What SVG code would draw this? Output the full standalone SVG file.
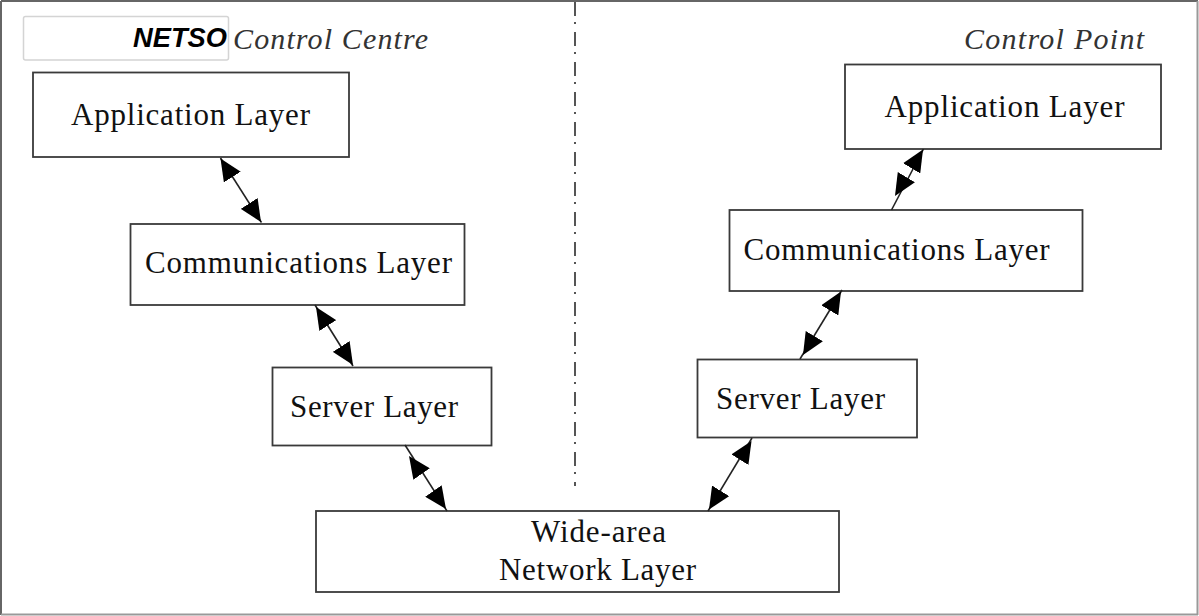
<svg xmlns="http://www.w3.org/2000/svg" width="1199" height="616" viewBox="0 0 1199 616">
<style>
.box{fill:#fff;stroke:#3a3a3a;stroke-width:1.8}
.lbl{font-family:"Liberation Serif","Times New Roman",serif;font-size:31px;fill:#111}
.ital{font-family:"Liberation Serif","Times New Roman",serif;font-size:30px;font-style:italic;fill:#333}
.conn{stroke:#222;stroke-width:1.6;fill:none}
.head{stroke:none;fill:none}
</style>
<defs>
<marker id="ah" viewBox="0 0 22 20" refX="22" refY="10" markerWidth="22" markerHeight="20" markerUnits="userSpaceOnUse" orient="auto-start-reverse">
<path d="M0,0 L22,10 L0,20 Z" fill="#000"/>
</marker>
</defs>
<rect x="0" y="0" width="1199" height="616" fill="#fff"/>
<g id="frame">
<line x1="1" y1="1" x2="1198" y2="1" stroke="#666" stroke-width="2"/>
<line x1="1" y1="1" x2="1" y2="615" stroke="#666" stroke-width="2"/>
<line x1="1197.5" y1="1" x2="1197.5" y2="615" stroke="#999" stroke-width="2"/>
<line x1="1" y1="614.5" x2="1198" y2="614.5" stroke="#999" stroke-width="2"/>
</g>
<g id="divider">
<line x1="575" y1="2" x2="575" y2="486" stroke="#555" stroke-width="2" stroke-dasharray="14 6 2 8"/>
</g>
<g id="title-left">
<rect x="23.5" y="16.5" width="205" height="43.5" rx="2" fill="#fff" stroke="#d4d4d4" stroke-width="1.5"/>
<text x="133" y="47" font-family="Liberation Sans, Arial, sans-serif" font-size="27" font-weight="bold" font-style="italic" fill="#000" textLength="94" lengthAdjust="spacingAndGlyphs">NETSO</text>
<text class="ital" x="233" y="49" textLength="195" lengthAdjust="spacing">Control Centre</text>
</g>
<g id="title-right">
<text class="ital" x="964" y="49" textLength="180" lengthAdjust="spacing">Control Point</text>
</g>
<g id="left-app">
<rect class="box" x="33" y="72.5" width="316" height="84.5"/>
<text class="lbl" x="71" y="125" textLength="239" lengthAdjust="spacing">Application Layer</text>
</g>
<g id="left-comm">
<rect class="box" x="130.5" y="224" width="334" height="81"/>
<text class="lbl" x="145" y="273" textLength="307" lengthAdjust="spacing">Communications Layer</text>
</g>
<g id="left-server">
<rect class="box" x="272.5" y="367.5" width="219" height="78"/>
<text class="lbl" x="290" y="416.5" textLength="168" lengthAdjust="spacing">Server Layer</text>
</g>
<g id="wan">
<rect class="box" x="316" y="511" width="523" height="81"/>
<text class="lbl" x="531" y="542" textLength="135" lengthAdjust="spacing">Wide-area</text>
<text class="lbl" x="499" y="580" textLength="197" lengthAdjust="spacing">Network Layer</text>
</g>
<g id="right-app">
<rect class="box" x="845" y="64.5" width="316" height="84.5"/>
<text class="lbl" x="884.5" y="117" textLength="240" lengthAdjust="spacing">Application Layer</text>
</g>
<g id="right-comm">
<rect class="box" x="729.5" y="210" width="353" height="81"/>
<text class="lbl" x="743.5" y="259.5" textLength="306" lengthAdjust="spacing">Communications Layer</text>
</g>
<g id="right-server">
<rect class="box" x="697.5" y="359.5" width="219.5" height="78"/>
<text class="lbl" x="716" y="408.5" textLength="169" lengthAdjust="spacing">Server Layer</text>
</g>
<g id="connectors">
<line class="conn" x1="220.5" y1="158" x2="261.5" y2="222.5"/>
<line class="head" x1="220.5" y1="158.5" x2="261" y2="222" marker-start="url(#ah)" marker-end="url(#ah)"/>
<line class="conn" x1="315" y1="305" x2="353" y2="366"/>
<line class="head" x1="316" y1="307" x2="353" y2="365" marker-start="url(#ah)" marker-end="url(#ah)"/>
<line class="conn" x1="405" y1="445" x2="447" y2="511"/>
<line class="head" x1="409" y1="456" x2="446" y2="509" marker-start="url(#ah)" marker-end="url(#ah)"/>
<line class="conn" x1="752" y1="438" x2="708" y2="511"/>
<line class="head" x1="751.5" y1="441" x2="709" y2="509.5" marker-start="url(#ah)" marker-end="url(#ah)"/>
<line class="conn" x1="842" y1="290" x2="800" y2="359"/>
<line class="head" x1="841" y1="291.5" x2="803" y2="355" marker-start="url(#ah)" marker-end="url(#ah)"/>
<line class="conn" x1="923.5" y1="149" x2="891.5" y2="210"/>
<line class="head" x1="923" y1="149.5" x2="895" y2="196" marker-start="url(#ah)" marker-end="url(#ah)"/>
</g>
</svg>
